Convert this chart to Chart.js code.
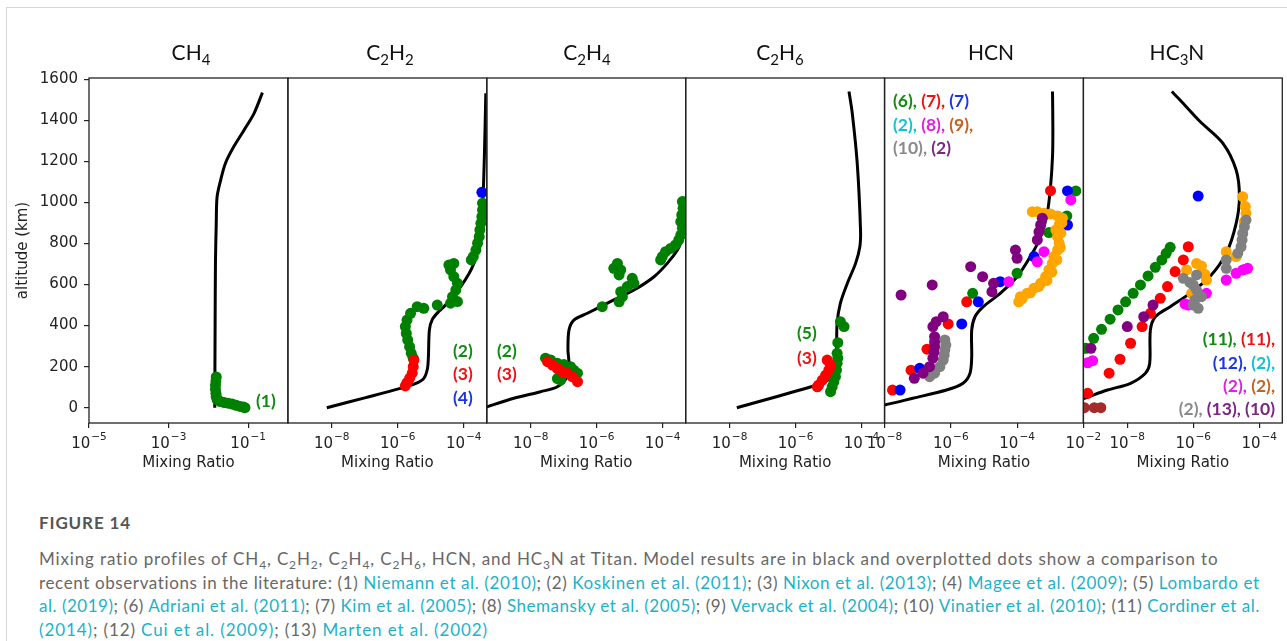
<!DOCTYPE html>
<html>
<head>
<meta charset="utf-8">
<script src="https://cdn.jsdelivr.net/npm/chart.js@4.4.1/dist/chart.umd.min.js"></script>
<style>
  body { margin: 0; background: #fff; }
  #fig { position: relative; width: 1287px; height: 641px; overflow: hidden; background: #fff; }
  .rule-top { position: absolute; left: 6px; right: 0; top: 7px; height: 1px; background: #d6d6d6; }
  .rule-left { position: absolute; left: 6px; top: 7px; bottom: 0; width: 1px; background: #d6d6d6; }
  canvas { position: absolute; top: 0; }
  .title { position: absolute; top: 41px; font: 21px Lato, sans-serif; color: #111; white-space: nowrap; transform: translateX(-50%); line-height: 21px; }
  .title span { font-size: 15px; position: relative; top: 5px; }
  .lbl { position: absolute; font: bold 17.5px Lato, sans-serif; line-height: 17.5px; white-space: nowrap; }
  .cap { position: absolute; left: 39px; font: 17px Lato, sans-serif; line-height: 17px; color: #676767; white-space: nowrap; }
  .cap a { color: #1cb2c8; text-decoration: none; }
  .cap sub { font-size: 12px; vertical-align: baseline; position: relative; top: 4px; }
  .fighead { font-weight: bold; color: #555; }
</style>
</head>
<body>
<div id="fig">
  <div class="rule-top"></div>
  <div class="rule-left"></div>

  <canvas id="ch4" width="328" height="490" style="left:0px"></canvas>
  <canvas id="c2h2" width="279" height="490" style="left:247px"></canvas>
  <canvas id="c2h4" width="279" height="490" style="left:446px"></canvas>
  <canvas id="c2h6" width="279" height="490" style="left:645px"></canvas>
  <canvas id="hcn" width="279" height="490" style="left:844px"></canvas>
  <canvas id="hc3n" width="279" height="490" style="left:1043px"></canvas>

  <div class="title" style="left:191px">CH<span>4</span></div>
  <div class="title" style="left:390px">C<span>2</span>H<span>2</span></div>
  <div class="title" style="left:587px">C<span>2</span>H<span>4</span></div>
  <div class="title" style="left:780px">C<span>2</span>H<span>6</span></div>
  <div class="title" style="left:991px">HCN</div>
  <div class="title" style="left:1177px">HC<span>3</span>N</div>

  <div class="lbl" style="left:256px;top:392px;color:#108a10">(1)</div>

  <div class="lbl" style="left:453px;top:342px;color:#108a10">(2)</div>
  <div class="lbl" style="left:453px;top:365px;color:#ee1111">(3)</div>
  <div class="lbl" style="left:453px;top:389px;color:#1a35e0">(4)</div>

  <div class="lbl" style="left:497px;top:342px;color:#108a10">(2)</div>
  <div class="lbl" style="left:497px;top:365px;color:#ee1111">(3)</div>

  <div class="lbl" style="left:797px;top:324px;color:#108a10">(5)</div>
  <div class="lbl" style="left:797px;top:349px;color:#ee1111">(3)</div>

  <div class="lbl" style="left:893px;top:92px"><span style="color:#108a10">(6),</span> <span style="color:#ee1111">(7),</span> <span style="color:#1a35e0">(7)</span></div>
  <div class="lbl" style="left:893px;top:116px"><span style="color:#16c0d0">(2),</span> <span style="color:#e020e0">(8),</span> <span style="color:#c5621f">(9),</span></div>
  <div class="lbl" style="left:893px;top:139px"><span style="color:#8a8a8a">(10),</span> <span style="color:#7a2580">(2)</span></div>

  <div class="lbl" style="right:12px;top:330px"><span style="color:#108a10">(11),</span> <span style="color:#ee1111">(11),</span></div>
  <div class="lbl" style="right:12px;top:354px"><span style="color:#1a35e0">(12),</span> <span style="color:#16c0d0">(2),</span></div>
  <div class="lbl" style="right:12px;top:377px"><span style="color:#e020e0">(2),</span> <span style="color:#c5621f">(2),</span></div>
  <div class="lbl" style="right:12px;top:400px"><span style="color:#8a8a8a">(2),</span> <span style="color:#7a2580">(13),</span> <span style="color:#7a2580">(10)</span></div>

  <div class="cap fighead" style="top:514px" data-w="92">FIGURE 14</div>
  <div class="cap" style="top:550px" data-w="1179">Mixing ratio profiles of CH<sub>4</sub>, C<sub>2</sub>H<sub>2</sub>, C<sub>2</sub>H<sub>4</sub>, C<sub>2</sub>H<sub>6</sub>, HCN, and HC<sub>3</sub>N at Titan. Model results are in black and overplotted dots show a comparison to</div>
  <div class="cap" style="top:574px" data-w="1221">recent observations in the literature: (1) <a>Niemann et al. (2010)</a>; (2) <a>Koskinen et al. (2011)</a>; (3) <a>Nixon et al. (2013)</a>; (4) <a>Magee et al. (2009)</a>; (5) <a>Lombardo et</a></div>
  <div class="cap" style="top:597px" data-w="1221"><a>al. (2019)</a>; (6) <a>Adriani et al. (2011)</a>; (7) <a>Kim et al. (2005)</a>; (8) <a>Shemansky et al. (2005)</a>; (9) <a>Vervack et al. (2004)</a>; (10) <a>Vinatier et al. (2010)</a>; (11) <a>Cordiner et al.</a></div>
  <div class="cap" style="top:621px" data-w="449"><a>(2014)</a>; (12) <a>Cui et al. (2009)</a>; (13) <a>Marten et al. (2002)</a></div>
</div>

<script>
// [mixing ratio, altitude km]
const altitudeTicks = [0, 200, 400, 600, 800, 1000, 1200, 1400, 1600];
const ch4Ticks = [1e-5, 1e-3, 1e-1];
const traceTicks = [1e-8, 1e-6, 1e-4];
const hcnTicks = [1e-8, 1e-6, 1e-4, 1e-2];

const ch4Model = [[0.0145, 0], [0.0148, 400], [0.0151, 705], [0.0158, 900], [0.0166, 1028], [0.0204, 1109],
  [0.0269, 1191], [0.0437, 1272], [0.0794, 1353], [0.141, 1434], [0.229, 1535]];
const ch4Niemann = [[0.0158, 150], [0.0155, 130], [0.0151, 110], [0.0151, 90], [0.0155, 70], [0.0158, 55],
  [0.0166, 40], [0.0200, 30], [0.0251, 25], [0.0316, 22], [0.0398, 18], [0.0501, 12], [0.0631, 6],
  [0.0759, 3], [0.0832, 0]];

const c2h2Model = [[7.08e-9, 0], [1.0e-7, 48], [1.20e-6, 94], [3.55e-6, 118], [6.17e-6, 143], [7.94e-6, 190],
  [8.51e-6, 250], [9.12e-6, 379], [1.12e-5, 430], [1.78e-5, 470], [2.51e-5, 492], [8.13e-5, 590],
  [2.04e-4, 704], [3.31e-4, 866], [3.89e-4, 1044], [4.27e-4, 1250], [4.68e-4, 1532]];
const c2h2Koskinen = [[3.72e-4, 996], [3.72e-4, 963], [3.55e-4, 931], [3.31e-4, 898], [3.09e-4, 866],
  [2.95e-4, 833], [2.63e-4, 801], [2.34e-4, 768], [1.95e-4, 736], [1.70e-4, 720], [5.01e-5, 703],
  [3.55e-5, 695], [3.98e-5, 671], [5.01e-5, 638], [6.46e-5, 606], [5.75e-5, 573], [4.57e-5, 541],
  [3.98e-5, 509], [6.46e-5, 517], [1.58e-5, 500], [6.17e-6, 484], [3.89e-6, 492], [2.45e-6, 460],
  [1.91e-6, 427], [1.70e-6, 395], [1.82e-6, 362], [2.00e-6, 330], [2.29e-6, 297], [2.57e-6, 265],
  [2.95e-6, 241]];
const c2h2Nixon = [[3.09e-6, 232], [2.95e-6, 200], [2.75e-6, 168], [2.29e-6, 143], [1.91e-6, 122], [1.70e-6, 106]];
const c2h2Magee = [[3.55e-4, 1049]];

const c2h4Model = [[3.98e-10, 0], [3.09e-9, 46], [2.00e-8, 78], [6.46e-8, 102], [1.29e-7, 151], [1.45e-7, 216],
  [1.35e-7, 281], [1.45e-7, 378], [2.04e-7, 427], [5.25e-7, 460], [3.31e-6, 525], [1.35e-5, 573],
  [5.50e-5, 638], [1.38e-4, 703], [2.82e-4, 768], [3.98e-4, 820], [5.62e-4, 870], [7.94e-4, 930]];
const c2h4Koskinen = [[3.98e-4, 1004], [4.17e-4, 971], [3.80e-4, 939], [3.55e-4, 906], [3.98e-4, 874],
  [3.55e-4, 841], [3.09e-4, 817], [2.45e-4, 793], [1.74e-4, 776], [1.23e-4, 760], [9.77e-5, 736],
  [8.71e-5, 720], [4.27e-6, 703], [3.31e-6, 679], [5.37e-6, 671], [4.79e-6, 647], [1.20e-5, 630],
  [1.35e-5, 606], [8.51e-6, 590], [5.37e-6, 565], [6.03e-6, 541], [4.79e-6, 516], [1.48e-6, 492],
  [2.82e-8, 241], [4.07e-8, 232], [6.46e-8, 216], [1.02e-7, 210], [1.62e-7, 200], [2.04e-7, 183],
  [2.63e-7, 168], [8.13e-8, 134], [6.46e-8, 142]];
const c2h4Nixon = [[3.24e-8, 224], [4.57e-8, 208], [6.46e-8, 191], [9.12e-8, 175], [1.29e-7, 168],
  [1.82e-7, 151], [2.63e-7, 127]];

const c2h6Model = [[1.66e-8, 0], [3.55e-6, 106], [9.12e-6, 134], [1.51e-5, 183], [1.74e-5, 281], [1.82e-5, 411],
  [2.29e-5, 509], [3.72e-5, 606], [6.61e-5, 703], [8.91e-5, 784], [9.33e-5, 866], [7.41e-5, 1191],
  [5.25e-5, 1434], [4.17e-5, 1540]];
const c2h6Lombardo = [[2.29e-5, 419], [2.95e-5, 395], [1.91e-5, 317], [1.82e-5, 265], [1.91e-5, 241],
  [1.82e-5, 216], [1.74e-5, 183], [1.62e-5, 151], [1.45e-5, 127], [1.29e-5, 102], [1.15e-5, 78]];
const c2h6Nixon = [[9.12e-6, 232], [1.15e-5, 208], [1.02e-5, 183], [8.13e-6, 158], [6.46e-6, 134],
  [5.01e-6, 110], [4.57e-6, 102]];

const hcnModel = [[3.98e-9, 0], [1.00e-8, 13], [7.08e-8, 46], [7.41e-7, 86], [2.34e-6, 119], [3.80e-6, 168],
  [4.27e-6, 248], [4.27e-6, 378], [5.37e-6, 443], [9.55e-6, 492], [3.09e-5, 557], [1.00e-4, 638],
  [2.51e-4, 736], [5.13e-4, 833], [8.13e-4, 947], [1.02e-3, 1077], [1.17e-3, 1223], [1.20e-3, 1353],
  [1.17e-3, 1540]];
const hcnGreen = [[5.89e-3, 1056], [3.16e-3, 934], [9.12e-4, 853], [1.00e-4, 655], [4.57e-6, 557]];
const hcnRed = [[1.02e-3, 1057], [3.02e-6, 516], [8.32e-7, 408], [1.91e-7, 285], [6.31e-8, 183], [1.74e-8, 86]];
const hcnBlue = [[3.31e-3, 1056], [3.31e-3, 890], [3.24e-4, 736], [3.09e-5, 614], [6.76e-6, 516],
  [2.14e-6, 408], [1.15e-7, 192], [2.95e-8, 86]];
const hcnMagenta = [[4.17e-3, 1012], [6.46e-4, 760], [4.07e-4, 711], [5.62e-5, 614]];
const hcnOrange = [[2.88e-4, 955], [4.07e-4, 955], [6.46e-4, 947], [1.02e-3, 944], [1.66e-3, 934],
  [2.34e-3, 923], [1.86e-3, 890], [1.48e-3, 866], [1.66e-3, 833], [1.86e-3, 801], [1.66e-3, 768],
  [1.29e-3, 736], [1.15e-3, 703], [9.12e-4, 671], [7.24e-4, 638], [5.13e-4, 606], [3.24e-4, 582],
  [2.00e-4, 557], [1.26e-4, 541], [1.12e-4, 516], [2.24e-3, 900], [2.09e-3, 850], [2.00e-3, 780],
  [1.58e-3, 720], [1.12e-3, 660], [7.94e-4, 620], [4.47e-4, 590], [2.51e-4, 560], [1.41e-4, 530]];
const hcnGray = [[6.61e-7, 330], [7.08e-7, 305], [6.61e-7, 281], [6.31e-7, 256], [5.89e-7, 232],
  [4.68e-7, 200], [3.24e-7, 168], [2.29e-7, 151]];
const hcnPurple = [[3.16e-8, 549], [2.75e-7, 598], [3.98e-6, 687], [9.12e-6, 638], [1.95e-5, 606],
  [1.74e-5, 565], [8.91e-5, 768], [1.00e-4, 728], [5.75e-4, 923], [5.13e-4, 890], [4.57e-4, 857],
  [4.07e-4, 817], [5.89e-7, 443], [3.63e-7, 419], [2.88e-7, 395], [3.24e-7, 346], [3.24e-7, 320],
  [3.24e-7, 297], [3.09e-7, 270], [2.88e-7, 241], [2.29e-7, 200], [1.45e-7, 168], [7.94e-8, 143]];

const hc3nModel = [[2.51e-10, 30], [5.01e-10, 46], [2.51e-9, 86], [1.26e-8, 119], [3.55e-8, 168],
  [4.79e-8, 216], [5.01e-8, 378], [7.08e-8, 443], [2.00e-7, 492], [7.94e-7, 557], [3.16e-6, 638],
  [1.00e-5, 752], [2.00e-5, 898], [2.51e-5, 1028], [2.00e-5, 1158], [7.94e-6, 1288], [1.58e-6, 1395],
  [3.98e-7, 1499], [2.24e-7, 1540]];
const hc3nGreen = [[5.62e-10, 289], [9.55e-10, 338], [1.66e-9, 382], [3.02e-9, 431], [5.25e-9, 476],
  [8.91e-9, 516], [1.51e-8, 557], [2.51e-8, 598], [4.27e-8, 642], [7.08e-8, 684], [1.12e-7, 720],
  [1.51e-7, 752], [2.00e-7, 781]];
const hc3nRed = [[6.31e-10, 70], [2.82e-9, 168], [6.03e-9, 236], [1.26e-8, 314], [2.82e-8, 395],
  [5.01e-8, 460], [1.00e-7, 533], [1.66e-7, 590], [2.82e-7, 663], [5.01e-7, 720], [7.08e-7, 784]];
const hc3nBlue = [[1.41e-6, 1031]];
const hc3nMagenta = [[7.08e-7, 500], [5.62e-7, 505], [2.51e-6, 557], [1.00e-5, 622], [2.00e-5, 655],
  [3.16e-5, 671], [3.80e-5, 675], [4.47e-5, 679], [6.31e-10, 219], [8.91e-10, 229]];
const hc3nOrange = [[3.16e-5, 1028], [3.80e-5, 980], [3.98e-5, 947], [3.55e-5, 906], [1.00e-5, 760],
  [2.00e-5, 736], [6.31e-7, 671], [1.26e-6, 703], [1.78e-6, 690], [2.24e-6, 650], [2.51e-6, 622],
  [8.91e-7, 557]];
const hc3nGray = [[3.98e-5, 914], [3.55e-5, 881], [3.16e-5, 849], [3.02e-5, 817], [2.82e-5, 784],
  [2.24e-5, 752], [1.00e-5, 720], [1.00e-5, 679], [5.01e-7, 630], [7.94e-7, 610], [1.00e-6, 598],
  [1.26e-6, 573], [1.78e-6, 541], [1.12e-6, 525], [1.00e-6, 500], [1.41e-6, 484], [1.26e-6, 647]];
const hc3nPurple = [[7.94e-10, 289], [1.00e-8, 395], [3.16e-8, 443], [6.03e-8, 500]];
const hc3nBrown = [[5.01e-10, 0], [1.00e-9, 0], [1.58e-9, 0]];

const GREEN = '#008000', RED = '#ff0000', BLUE = '#0000ff', MAGENTA = '#ff00ff',
  ORANGE = '#ffa500', GRAY = '#808080', PURPLE = '#800080', BROWN = '#a52a2a';

Chart.defaults.font.family = '"DejaVu Sans", sans-serif';
Chart.defaults.color = '#222';

// plot box geometry (px)
const PLOT_TOP = 78, X_AXIS_H = 67, BOX_W = 198.9;
const ALT_MIN = -74.5, ALT_MAX = 1606;

function model(data) {
  return { data, showLine: true, borderColor: '#000', borderWidth: 3, pointRadius: 0, tension: 0.3, clip: 0 };
}
function dots(data, color) {
  return { data, showLine: false, pointRadius: 5.5, pointBorderWidth: 0,
    pointBackgroundColor: color, backgroundColor: color, borderColor: color, clip: 0 };
}

const frame = {
  id: 'frame',
  afterDatasetsDraw(chart) {
    const a = chart.chartArea, ctx = chart.ctx;
    ctx.save();
    ctx.strokeStyle = '#222';
    ctx.lineWidth = 1.3;
    ctx.strokeRect(a.left, a.top, a.right - a.left, a.bottom - a.top);
    ctx.restore();
  }
};

// "10" with a raised exponent, like the matplotlib labels
const powerLabels = {
  id: 'powerLabels',
  afterDraw(chart) {
    const ctx = chart.ctx, xs = chart.scales.x, base = chart.chartArea.bottom + 25;
    ctx.save();
    ctx.fillStyle = '#222';
    ctx.textAlign = 'left';
    ctx.textBaseline = 'alphabetic';
    xs.ticks.forEach(t => {
      const px = xs.getPixelForValue(t.value);
      const exp = '\u2212' + Math.abs(Math.round(Math.log10(t.value)));
      ctx.font = '15px "DejaVu Sans"';
      const w1 = ctx.measureText('10').width;
      ctx.font = '10.5px "DejaVu Sans"';
      const w2 = ctx.measureText(exp).width;
      const x0 = px - (w1 + w2 + 1) / 2;
      ctx.font = '15px "DejaVu Sans"';
      ctx.fillText('10', x0, base);
      ctx.font = '10.5px "DejaVu Sans"';
      ctx.fillText(exp, x0 + w1 + 1, base - 8);
    });
    ctx.restore();
  }
};

function panel(id, boxLeft, canvasLeft, canvasW, xMin, xMax, ticks, layers, showY) {
  const yAxis = {
    type: 'linear', min: ALT_MIN, max: ALT_MAX, display: showY,
    afterBuildTicks: s => { s.ticks = altitudeTicks.map(v => ({ value: v })); },
    grid: { drawOnChartArea: false, drawTicks: true, tickLength: 5, color: '#222', lineWidth: 1.2 },
    border: { display: false },
    ticks: { font: { size: 15 }, padding: 6, color: '#222', callback: v => String(v) },
    title: { display: true, text: 'altitude (km)', font: { size: 15 }, color: '#222', padding: { top: 14, bottom: 0 } }
  };
  if (showY) yAxis.afterFit = s => { s.width = 89; };
  return new Chart(document.getElementById(id), {
    type: 'scatter',
    data: { datasets: layers.slice().reverse() },
    options: {
      responsive: false, animation: false, devicePixelRatio: 1, events: [],
      layout: { padding: { left: showY ? 0 : boxLeft - canvasLeft, right: canvasLeft + canvasW - boxLeft - BOX_W, top: PLOT_TOP, bottom: 0 } },
      plugins: { legend: { display: false }, tooltip: { enabled: false } },
      scales: {
        x: {
          type: 'logarithmic', min: xMin, max: xMax,
          afterBuildTicks: s => { s.ticks = ticks.map(v => ({ value: v })); },
          grid: { drawOnChartArea: false, drawTicks: true, tickLength: 5, color: '#222', lineWidth: 1.2 },
          border: { display: false },
          ticks: { display: false },
          title: { display: true, text: 'Mixing Ratio', font: { size: 15 }, color: '#222', padding: { top: 4, bottom: 18 } },
          afterFit: s => { s.height = X_AXIS_H; }
        },
        y: yAxis
      }
    },
    plugins: [frame, powerLabels]
  });
}

const TRACE_MIN = 4.68e-10, TRACE_MAX = 5.01e-4;

panel('ch4', 89, 0, 328, 1e-5, 1, ch4Ticks,
  [model(ch4Model), dots(ch4Niemann, GREEN)], true);
panel('c2h2', 287.9, 247, 279, TRACE_MIN, TRACE_MAX, traceTicks,
  [model(c2h2Model), dots(c2h2Koskinen, GREEN), dots(c2h2Nixon, RED), dots(c2h2Magee, BLUE)], false);
panel('c2h4', 486.8, 446, 279, TRACE_MIN, TRACE_MAX, traceTicks,
  [model(c2h4Model), dots(c2h4Koskinen, GREEN), dots(c2h4Nixon, RED)], false);
panel('c2h6', 685.7, 645, 279, TRACE_MIN, TRACE_MAX, traceTicks,
  [model(c2h6Model), dots(c2h6Lombardo, GREEN), dots(c2h6Nixon, RED)], false);
panel('hcn', 884.5, 844, 279, 1e-8, 1e-2, hcnTicks,
  [model(hcnModel), dots(hcnRed, RED), dots(hcnGreen, GREEN), dots(hcnBlue, BLUE), dots(hcnMagenta, MAGENTA),
   dots(hcnOrange, ORANGE), dots(hcnGray, GRAY), dots(hcnPurple, PURPLE)], false);
panel('hc3n', 1083.4, 1043, 279, TRACE_MIN, TRACE_MAX, traceTicks,
  [model(hc3nModel), dots(hc3nBrown, BROWN), dots(hc3nGreen, GREEN), dots(hc3nRed, RED), dots(hc3nBlue, BLUE),
   dots(hc3nMagenta, MAGENTA), dots(hc3nOrange, ORANGE), dots(hc3nGray, GRAY), dots(hc3nPurple, PURPLE)], false);

// stretch caption lines to the measured widths of the reference
document.fonts.ready.then(() => {
  document.querySelectorAll('[data-w]').forEach(el => {
    const w = el.getBoundingClientRect().width;
    const n = el.textContent.length;
    el.style.letterSpacing = ((+el.dataset.w - w) / n) + 'px';
  });
});
</script>
</body>
</html>
